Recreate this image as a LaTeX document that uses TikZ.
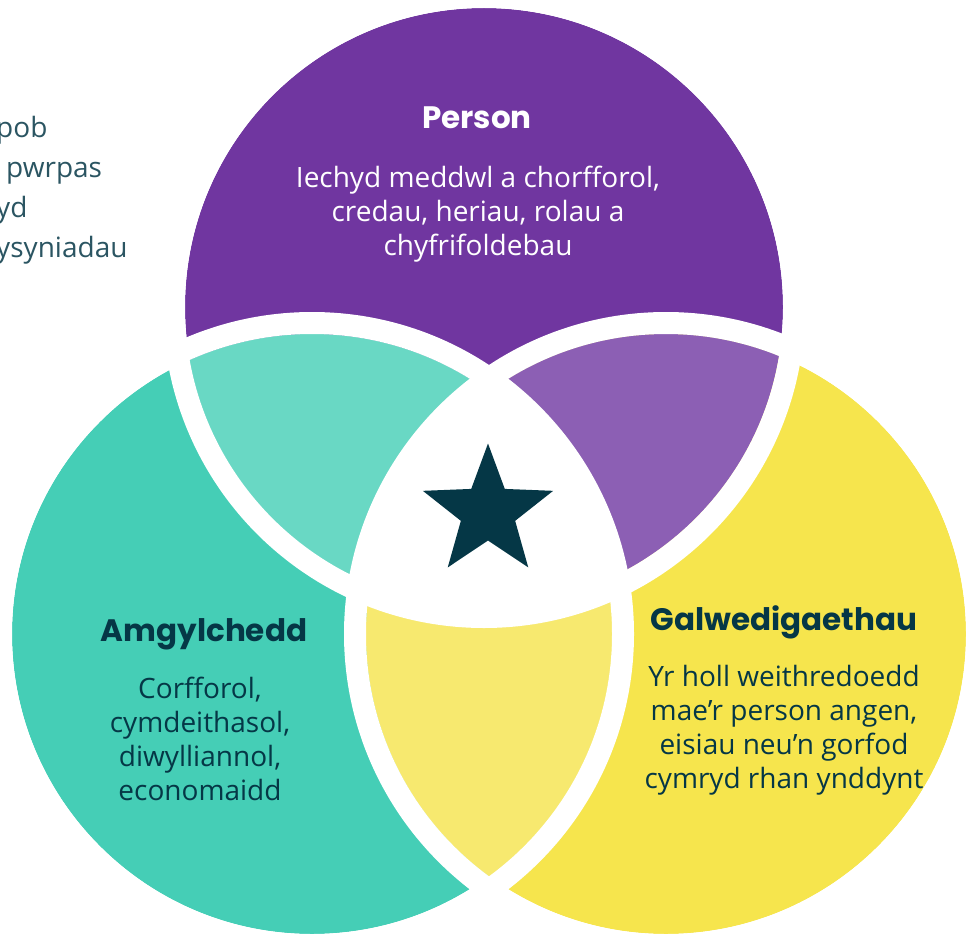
\documentclass[tikz,border=0pt]{standalone}
\usepackage{fontspec}
\setmainfont{Open Sans}
\newfontfamily\headfont{Poppins}
\usetikzlibrary{shapes.geometric}

\definecolor{personpurple}{HTML}{7036A0}
\definecolor{personlight}{HTML}{8C5FB4}
\definecolor{amgteal}{HTML}{45CEB6}
\definecolor{amglight}{HTML}{69D8C4}
\definecolor{galyellow}{HTML}{F6E54D}
\definecolor{gallight}{HTML}{F7E96F}
\definecolor{inkblue}{HTML}{053746}

\begin{document}
\begin{tikzpicture}[x=1pt,y=-1pt]

        \useasboundingbox (0,0) rectangle (973,936);

        \coordinate (P) at (484,307);
        \coordinate (T) at (312,634);
        \coordinate (Y) at (666,634);

        % the three circles
        \fill[personpurple] (P) circle (299);
        \fill[amgteal]      (T) circle (300);
        \fill[galyellow]    (Y) circle (300);

        % overlaps
        \begin{scope}
          \clip (P) circle (299);
          \fill[amglight]    (T) circle (300);
          \fill[personlight] (Y) circle (300);
        \end{scope}
        \begin{scope}
          \clip (T) circle (300);
          \fill[gallight] (Y) circle (300);
        \end{scope}
        \begin{scope}
          \clip (T) circle (302);
          \clip (P) circle (301);
          \fill[white] (Y) circle (302);
        \end{scope}

        % white gaps round each circle
        \begin{scope}[every path/.style={draw=white,line width=22pt}]
          \path (P) circle (310);
          \path (T) circle (311);
          \path (Y) circle (311);
        \end{scope}

        \node[star,star points=5,star point ratio=2.4,fill=inkblue,
              minimum size=137pt,inner sep=0pt] (star) at (488,512) {};

        \begin{scope}[every node/.style={inner sep=0pt,anchor=base,
            font=\headfont\bfseries\fontsize{31}{36}\selectfont}]
          \node[text=white]   (person) at (477,129) {Person};
          \node[text=inkblue] (amg)    at (204,641) {Amgylchedd};
          \node[text=inkblue] (gal)    at (784,630) {Galwedigaethau};
        \end{scope}

        \begin{scope}[every node/.style={inner sep=0pt,anchor=north,align=center,
            font=\fontsize{28}{34}\selectfont}]
          \node[text=white]   (persontext) at (478,165.5) {Iechyd meddwl a chorfforol,\\credau, heriau, rolau a\\chyfrifoldebau};
          \node[text=inkblue] (amgtext)    at (200,676.5) {Corfforol,\\cymdeithasol,\\diwylliannol,\\economaidd};
          \node[text=inkblue] (galtext)    at (784,665.5) {Yr holl weithredoedd\\mae’r person angen,\\eisiau neu’n gorfod\\cymryd rhan ynddynt};
        \end{scope}

        \node[inner sep=0pt,anchor=north west,align=left,text=inkblue!85!white,
              font=\fontsize{28}{40}\selectfont] (intro) at (-4,116.5)
              {pob\\\hspace*{10pt}pwrpas\\yd\\ysyniadau};

      \end{tikzpicture}
\end{document}
